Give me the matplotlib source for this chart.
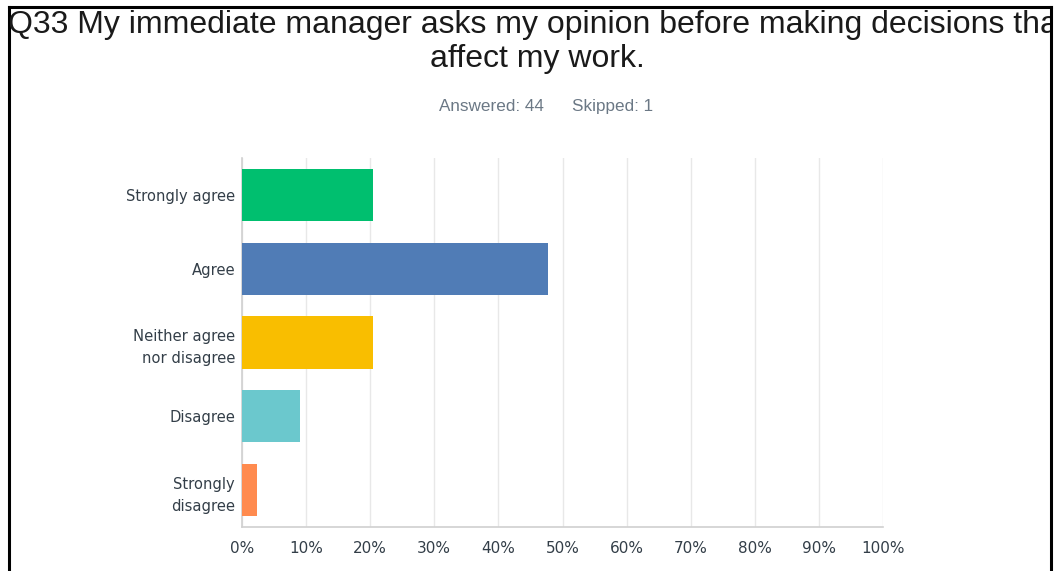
import matplotlib
matplotlib.use("Agg")
import matplotlib.pyplot as plt
from matplotlib.lines import Line2D
from matplotlib.patches import Rectangle
import numpy as np

# Survey responses for Q33 (share of respondents, %)
categories = ["Strongly agree", "Agree", "Neither agree\nnor disagree", "Disagree", "Strongly\ndisagree"]
percent = [20.45, 47.73, 20.45, 9.09, 2.27]
colors = ["#00BF6F", "#507CB6", "#F9BE00", "#6BC8CD", "#FF8B4F"]
xticks = list(range(0, 101, 10))
xtick_labels = [f"{t}%" for t in xticks]
answered = 44
skipped = 1
title_lines = ["Q33 My immediate manager asks my opinion before making decisions that",
               "affect my work."]

W, H = 1058, 571
fig = plt.figure(figsize=(W / 100, H / 100), dpi=100)
fig.patch.set_facecolor("white")

ax = fig.add_axes([242 / W, 1 - 527 / H, (883 - 242) / W, (527 - 158) / H])
y = np.arange(len(categories))
ax.barh(y, percent, height=0.705, color=colors, zorder=3)
ax.set_ylim(len(categories) - 0.5, -0.5)
ax.set_xlim(0, 100)

ax.set_xticks(xticks)
ax.set_xticklabels(xtick_labels)
ax.set_yticks(y)
ax.set_yticklabels(categories, linespacing=1.6)

label_font = "DejaVu Sans"
for lbl in ax.get_yticklabels():
    lbl.set_fontfamily(label_font)
    lbl.set_fontsize(10.6)
    lbl.set_color("#333E48")
for lbl in ax.get_xticklabels():
    lbl.set_fontfamily(label_font)
    lbl.set_fontsize(11)
    lbl.set_color("#333E48")

ax.tick_params(axis="both", length=0)
ax.tick_params(axis="y", pad=5)
ax.tick_params(axis="x", pad=10)
ax.grid(axis="x", color="#E8E8E8", linewidth=1, zorder=0)
for side in ("top", "right"):
    ax.spines[side].set_visible(False)
for side in ("left", "bottom"):
    ax.spines[side].set_color("#D0D0D0")
    ax.spines[side].set_linewidth(1.2)

# Outer frame, open at the bottom
frame_x0, frame_x1, frame_y0 = 9, 1051, 7
px = lambda x: x / W
py = lambda yy: 1 - yy / H
for xs, ys in (([frame_x0, frame_x0], [frame_y0, H + 5]),
               ([frame_x1, frame_x1], [frame_y0, H + 5]),
               ([frame_x0, frame_x1], [frame_y0, frame_y0])):
    fig.add_artist(Line2D([px(v) for v in xs], [py(v) for v in ys],
                          color="black", linewidth=2.2, transform=fig.transFigure))

clip = Rectangle((px(frame_x0 + 1), 0), px(frame_x1 - frame_x0 - 2), py(frame_y0 + 1),
                 transform=fig.transFigure, visible=False)
fig.add_artist(clip)

for line, base in zip(title_lines, (33, 67)):
    t = fig.text(px(537), py(base), line, ha="center", va="baseline", fontsize=23,
                 family="Liberation Sans", color="#1a1a1a")
    t.set_clip_path(clip)

fig.text(px(491), py(111), f"Answered: {answered}", ha="center", va="baseline",
         fontsize=12.3, family="Liberation Sans", color="#6B7885")
fig.text(px(613), py(111), f"Skipped: {skipped}", ha="center", va="baseline",
         fontsize=12.3, family="Liberation Sans", color="#6B7885")

fig.savefig("out.png", dpi=100, facecolor="white")
